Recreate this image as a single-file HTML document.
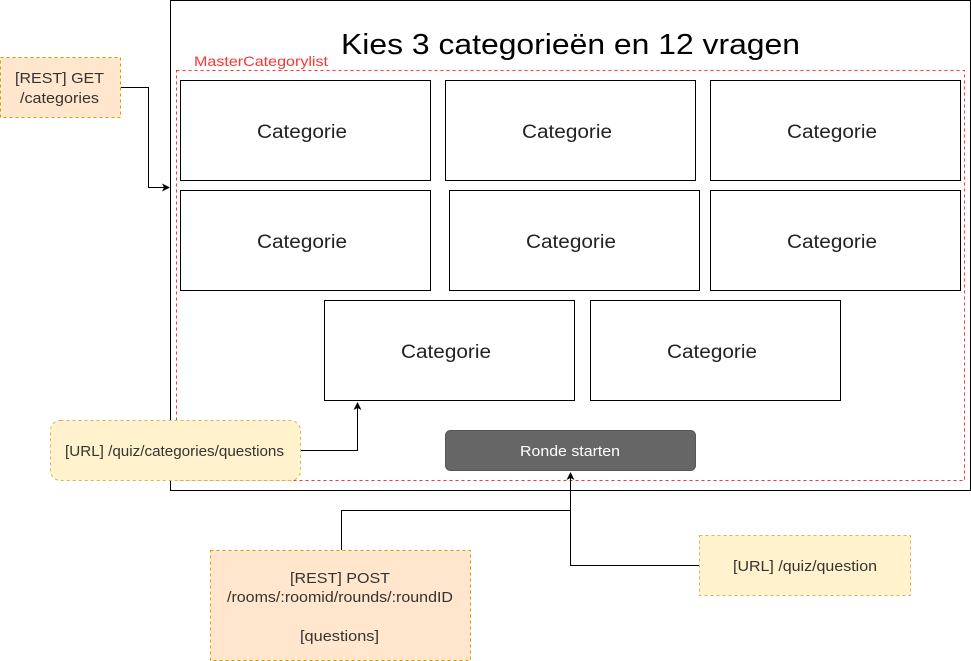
<!DOCTYPE html>
<html><head><meta charset="utf-8"><style>
html,body{margin:0;padding:0;background:#fff;}
svg{display:block;font-family:"Liberation Sans",Arial,sans-serif;}
</style></head><body>
<svg width="971" height="661" viewBox="0 0 971 661" xmlns="http://www.w3.org/2000/svg">
<defs><marker id="a" markerWidth="8" markerHeight="8" refX="7" refY="4" orient="auto" markerUnits="userSpaceOnUse"><path d="M0,0 L8,4 L0,8 L2,4 Z" fill="#000"/></marker></defs>
<rect x="170.5" y="0.5" width="800" height="490" fill="#fff" stroke="#000"/>
<text x="341" y="54" font-size="29" fill="#000" textLength="459" lengthAdjust="spacingAndGlyphs">Kies 3 categorieën en 12 vragen</text>
<rect x="176.5" y="70.5" width="788" height="410" fill="none" stroke="#ff3333" stroke-dasharray="3,3"/>
<text x="194" y="66" font-size="14" fill="#ff3333" textLength="134" lengthAdjust="spacingAndGlyphs">MasterCategorylist</text>
<g fill="#fff" stroke="#000">
<rect x="180.5" y="80.5" width="250" height="100"/>
<rect x="445.5" y="80.5" width="250" height="100"/>
<rect x="710.5" y="80.5" width="250" height="100"/>
<rect x="180.5" y="190.5" width="250" height="100"/>
<rect x="449.5" y="190.5" width="250" height="100"/>
<rect x="710.5" y="190.5" width="250" height="100"/>
<rect x="324.5" y="300.5" width="250" height="100"/>
<rect x="590.5" y="300.5" width="250" height="100"/>
</g>
<g font-size="19" fill="#222">
<text x="257" y="138" textLength="90" lengthAdjust="spacingAndGlyphs">Categorie</text>
<text x="522" y="138" textLength="90" lengthAdjust="spacingAndGlyphs">Categorie</text>
<text x="787" y="138" textLength="90" lengthAdjust="spacingAndGlyphs">Categorie</text>
<text x="257" y="248" textLength="90" lengthAdjust="spacingAndGlyphs">Categorie</text>
<text x="526" y="248" textLength="90" lengthAdjust="spacingAndGlyphs">Categorie</text>
<text x="787" y="248" textLength="90" lengthAdjust="spacingAndGlyphs">Categorie</text>
<text x="401" y="358" textLength="90" lengthAdjust="spacingAndGlyphs">Categorie</text>
<text x="667" y="358" textLength="90" lengthAdjust="spacingAndGlyphs">Categorie</text>
</g>
<rect x="445.5" y="430.5" width="250" height="40" rx="5" fill="#666" stroke="#555"/>
<text x="520" y="456" font-size="15" fill="#fff" textLength="100" lengthAdjust="spacingAndGlyphs">Ronde starten</text>

<rect x="0.5" y="57.5" width="120" height="60" fill="#ffe6cc" stroke="#d79b00" stroke-dasharray="3,3"/>
<text x="15" y="83" font-size="15" fill="#333" textLength="89" lengthAdjust="spacingAndGlyphs">[REST] GET</text>
<text x="20" y="103" font-size="15" fill="#333" textLength="79" lengthAdjust="spacingAndGlyphs">/categories</text>
<path d="M121,87.5 H148.5 V187.5 H169" fill="none" stroke="#000" marker-end="url(#a)"/>

<rect x="50.5" y="420.5" width="250" height="60" rx="10" fill="#fff2cc" stroke="#d6b656" stroke-dasharray="3,3"/>
<text x="65" y="456" font-size="15" fill="#333" textLength="219" lengthAdjust="spacingAndGlyphs">[URL]  /quiz/categories/questions</text>
<path d="M301,450.5 H357.5 V403" fill="none" stroke="#000" marker-end="url(#a)"/>

<rect x="210.5" y="550.5" width="260" height="110" fill="#ffe6cc" stroke="#d79b00" stroke-dasharray="3,3"/>
<text x="290" y="583" font-size="15" fill="#333" textLength="100" lengthAdjust="spacingAndGlyphs">[REST] POST</text>
<text x="227" y="602" font-size="15" fill="#333" textLength="226" lengthAdjust="spacingAndGlyphs">/rooms/:roomid/rounds/:roundID</text>
<text x="300" y="641" font-size="15" fill="#333" textLength="79" lengthAdjust="spacingAndGlyphs">[questions]</text>
<path d="M341.5,550 V510.5 H570.5" fill="none" stroke="#000"/>

<rect x="699.5" y="535.5" width="211" height="60" fill="#fff2cc" stroke="#d6b656" stroke-dasharray="3,3"/>
<text x="733" y="571" font-size="15" fill="#333" textLength="144" lengthAdjust="spacingAndGlyphs">[URL] /quiz/question</text>
<path d="M699,565.5 H570.5 V473" fill="none" stroke="#000" marker-end="url(#a)"/>
</svg>
</body></html>
